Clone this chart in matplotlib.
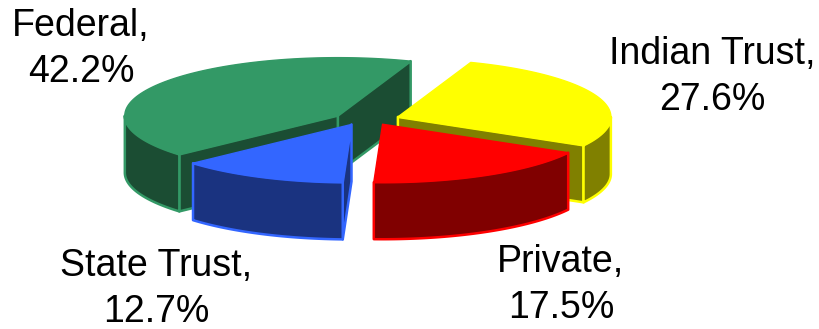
import numpy as np
import matplotlib
matplotlib.use("Agg")
import matplotlib.pyplot as plt
from matplotlib.patches import Polygon

categories = ["Federal", "State Trust", "Private", "Indian Trust"]
shares = [42.2, 12.7, 17.5, 27.6]

top_colors = ["#339966", "#3366FF", "#FF0000", "#FFFF00"]
wall_colors = ["#1B4D33", "#1A3380", "#800000", "#808000"]
edge_colors = ["#339966", "#3366FF", "#FF0000", "#FFFF00"]
draw_order = [0, 3, 1, 2]
label_xy = [(81, 49), (156, 289), (561, 285), (712, 77)]

W, H = 819, 329
CX, CY = 366, 119
RX, RY = 213, 58
DEPTH = 57
EXPLODE_X = 34
EXPLODE_Y = 6
START = 70.0

fig = plt.figure(figsize=(W / 100, H / 100), dpi=100)
ax = fig.add_axes([0, 0, 1, 1])
ax.set_xlim(0, W)
ax.set_ylim(H, 0)
ax.axis("off")


def rim(cx, cy, t0, t1):
    t = np.radians(np.linspace(t0, t1, max(2, int(abs(t1 - t0) * 2))))
    return np.column_stack([cx + RX * np.cos(t), cy - RY * np.sin(t)])


def add_wall(pts, wall, edge, z):
    ax.add_patch(Polygon(pts, closed=True, facecolor=wall, edgecolor=edge,
                         linewidth=1.8, joinstyle="round", zorder=z))


def draw_slice(i, a0, a1, z):
    mid = np.radians((a0 + a1) / 2)
    cx = CX + EXPLODE_X * np.cos(mid)
    cy = CY - EXPLODE_Y * np.sin(mid)
    apex = np.array([cx, cy])
    down = np.array([0, DEPTH])
    wall, edge = wall_colors[i], edge_colors[i]
    # flat cut faces, only when they face the viewer
    for ang, normal in ((a0, a0 - 90), (a1, a1 + 90)):
        if np.sin(np.radians(normal)) < 0:
            p = rim(cx, cy, ang, ang + 1)[0]
            add_wall([apex, p, p + down, apex + down], wall, edge, z)
    # curved outer wall: the part of the rim on the front half
    for lo, hi in ((180, 360), (540, 720)):
        s, e = max(a0, lo), min(a1, hi)
        if e > s:
            r = rim(cx, cy, s, e)
            add_wall(np.vstack([r, (r + down)[::-1]]), wall, edge, z + 0.1)
    top = np.vstack([apex, rim(cx, cy, a0, a1)])
    ax.add_patch(Polygon(top, closed=True, facecolor=top_colors[i],
                         edgecolor=edge, linewidth=1.0, joinstyle="round",
                         zorder=z + 0.2))


edges = START + np.concatenate([[0], np.cumsum(shares)]) * 3.6
for n, i in enumerate(draw_order):
    draw_slice(i, edges[i], edges[i + 1], n + 1)

for name, value, (x, y) in zip(categories, shares, label_xy):
    ax.text(x, y, f"{name},\n{value}%", ha="center", va="center",
            family="Liberation Sans", fontsize=27, color="black",
            linespacing=1.33, zorder=10)

fig.savefig("out.png", dpi=100, facecolor="white")
